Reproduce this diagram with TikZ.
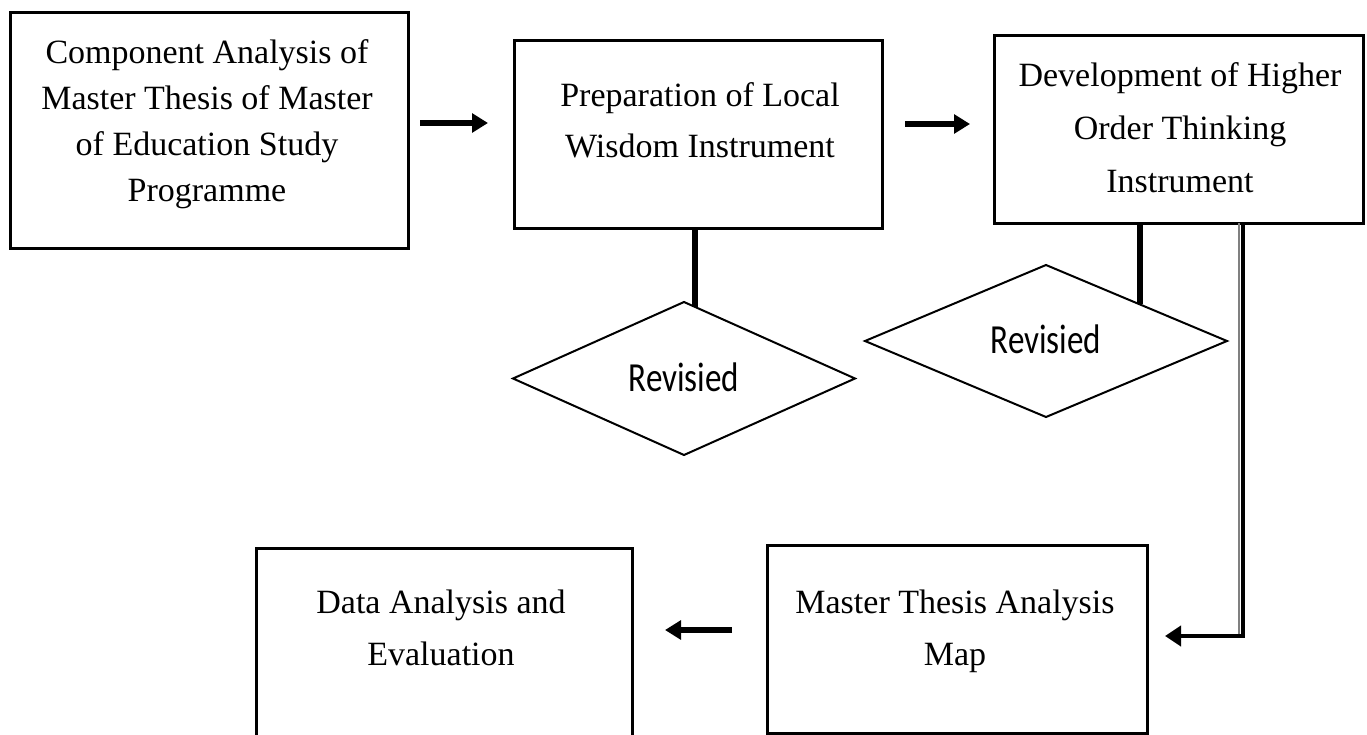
\documentclass[tikz,border=0pt]{standalone}
\usepackage{fontspec}
\setmainfont{Liberation Serif}
\newfontfamily\revfont{Carlito}
\usetikzlibrary{shapes.geometric,arrows.meta}
\newcommand{\boxlines}[2]{\fontsize{25.5pt}{#1}\selectfont\begin{tabular}[t]{@{}c@{}}#2\end{tabular}}
\newcommand{\revtext}{\fontsize{31pt}{36pt}\selectfont\raisebox{2.5pt}{\scalebox{0.8}[1]{\revfont Revisied}}}
\begin{document}
\begin{tikzpicture}[x=0.75pt,y=-0.75pt,
  box/.style={draw,line width=2.25pt,rectangle,inner sep=0pt,outer sep=0pt},
  txt/.style={inner sep=0pt,outer sep=0pt,anchor=base},
  dia/.style={draw,diamond,line width=1.5pt,inner sep=0pt,outer sep=0pt},
  conn/.style={line width=4.5pt},
  arr/.style={line width=5pt,-{Triangle[length=12pt,width=14pt]}}]
\useasboundingbox (0,0) rectangle (1367,735);
\clip (0,0) rectangle (1367,735);
% boxes
\node[box,minimum width=298.5pt,minimum height=176.25pt] (b1) at (209,130.5) {};
\node[box,minimum width=276pt,minimum height=140.25pt] (b2) at (698,134.5) {};
\node[box,minimum width=276.75pt,minimum height=140.25pt] (b3) at (1178.5,129.5) {};
\node[box,minimum width=282pt,minimum height=143.25pt] (b4) at (444,643.5) {};
\node[box,minimum width=285pt,minimum height=141pt] (b5) at (957,639) {};
% texts
\node[txt] (t1) at (207,64) {\boxlines{34.5pt}{Component Analysis of\\Master Thesis of Master\\of Education Study\\Programme}};
\node[txt] (t2) at (700,107) {\boxlines{38.25pt}{Preparation of Local\\Wisdom Instrument}};
\node[txt] (t3) at (1180,87) {\boxlines{39.75pt}{Development of Higher\\Order Thinking\\Instrument}};
\node[txt] (t4) at (441,613) {\boxlines{39pt}{Data Analysis and\\Evaluation}};
\node[txt] (t5) at (955,613) {\boxlines{39pt}{Master Thesis Analysis\\Map}};
% diamonds
\node[dia,minimum width=256.5pt,minimum height=114.75pt] (d1) at (684,378.5) {\revtext};
\node[dia,minimum width=271.5pt,minimum height=114pt] (d2) at (1046,341) {\revtext};
% connectors to diamonds
\path (d1.north) -- (d1.east) coordinate[pos=0.064] (d1hit);
\path (d2.north) -- (d2.east) coordinate[pos=0.519] (d2hit);
\draw[conn] (b2.south -| d1hit) -- (d1hit);
\draw[conn] (b3.south -| d2hit) -- (d2hit);
% horizontal arrows
\coordinate (ya) at (0,123);
\coordinate (yb) at (0,124);
\coordinate (yc) at (0,630);
\draw[arr,shorten <=9pt,shorten >=19.5pt] (b1.east |- ya) -- (b2.west |- ya);
\draw[arr,shorten <=17.25pt,shorten >=18pt] (b2.east |- yb) -- (b3.west |- yb);
\draw[arr,shorten <=26.25pt,shorten >=24.75pt] (b5.west |- yc) -- (b4.east |- yc);
% double connector
\coordinate (xg) at (1239,0);
\coordinate (xk) at (1243,0);
\coordinate (yd) at (0,636);
\draw[gray,line width=2pt] (b3.south -| xg) -- (xg |- yd);
\draw[line width=3.5pt,-{Triangle[length=12pt,width=15pt]},shorten >=13.5pt] (b3.south -| xk) |- (b5.east |- yd);
\end{tikzpicture}
\end{document}
